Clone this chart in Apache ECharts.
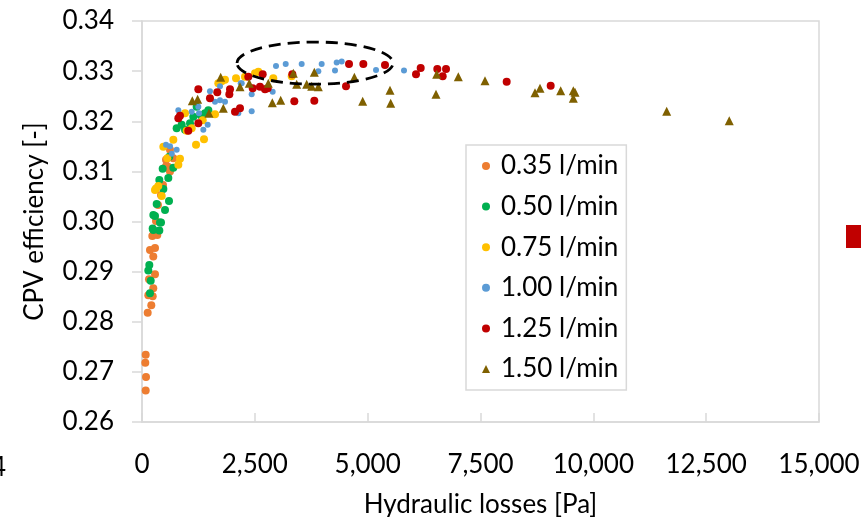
<!DOCTYPE html>
<html>
<head>
<meta charset="utf-8">
<script src="https://cdn.jsdelivr.net/npm/echarts@6/dist/echarts.min.js"></script>
<style>
html,body{margin:0;padding:0;background:#fff;}
#chart{width:861px;height:517px;}
</style>
</head>
<body>
<div id="chart"></div>
<script>
// ---------- data (x = hydraulic losses [Pa], y = CPV efficiency [-]) ----------
const seriesNames = ['0.35 l/min','0.50 l/min','0.75 l/min','1.00 l/min','1.25 l/min','1.50 l/min'];
const xTicks = [0, 2500, 5000, 7500, 10000, 12500, 15000];
const yTicks = [0.26, 0.27, 0.28, 0.29, 0.30, 0.31, 0.32, 0.33, 0.34];

const flow035 = [[82,0.2734],[73,0.2718],[89,0.2690],[82,0.2663],[126,0.2818],[206,0.2833],[250,0.2867],[140,0.2853],[237,0.2851],[288,0.2895],[155,0.2885],[177,0.2943],[288,0.2947],[250,0.2930],[228,0.2971],[339,0.2973],[310,0.3001],[532,0.3123],[576,0.3109],[465,0.3073],[354,0.3033],[421,0.3053],[620,0.3143],[532,0.3110],[620,0.3100],[694,0.3126]];
const flow050 = [[421,0.2998],[251,0.2983],[384,0.2982],[162,0.2913],[140,0.2902],[193,0.2882],[177,0.2857],[236,0.2986],[399,0.2998],[251,0.3013],[288,0.3011],[510,0.3023],[598,0.3041],[325,0.3035],[473,0.3065],[384,0.3083],[583,0.3087],[458,0.3105],[694,0.3107],[605,0.3129],[768,0.3186],[879,0.3193],[953,0.3183],[1064,0.3196],[1137,0.3209],[1211,0.3229],[1300,0.3212],[1470,0.3222],[1396,0.3216]];
const flow075 = [[310,0.3066],[361,0.3071],[436,0.3051],[561,0.3126],[842,0.3125],[805,0.3113],[473,0.3149],[694,0.3163],[1197,0.3153],[1374,0.3164],[990,0.3181],[1101,0.3186],[953,0.3216],[1345,0.3202],[1618,0.3214],[1691,0.3276],[1765,0.3280],[2083,0.3286],[2282,0.3289],[2504,0.3296],[2578,0.3299],[2909,0.3286],[3317,0.3290],[1839,0.3283],[288,0.3063]];
const flow100 = [[805,0.3222],[1101,0.3219],[1248,0.3229],[1263,0.3216],[768,0.3143],[532,0.3153],[1359,0.3183],[1455,0.3193],[1506,0.3260],[1617,0.3239],[1728,0.3242],[1839,0.3239],[1728,0.3270],[2134,0.3216],[2209,0.3276],[2430,0.3220],[2430,0.3254],[2895,0.3259],[2969,0.3310],[3184,0.3314],[3538,0.3314],[3981,0.3314],[3907,0.3300],[4314,0.3317],[4425,0.3319],[4276,0.3301],[5185,0.3302],[5805,0.3301],[2187,0.3276],[620,0.3150],[660,0.3135]];
const flow125 = [[1248,0.3264],[1506,0.3246],[1668,0.3258],[1950,0.3264],[1935,0.3254],[2171,0.3226],[2061,0.3219],[842,0.3211],[805,0.3206],[1248,0.3196],[1026,0.3181],[2355,0.3289],[2453,0.3266],[2614,0.3269],[2725,0.3264],[2674,0.3294],[2785,0.3266],[3375,0.3240],[3818,0.3241],[3331,0.3294],[4587,0.3314],[4904,0.3314],[5384,0.3312],[4520,0.3270],[6175,0.3306],[6071,0.3294],[6543,0.3304],[6736,0.3304],[6662,0.3290],[8080,0.3279],[9055,0.3271]];
const flow150 = [[1743,0.3288],[2171,0.3269],[2377,0.3276],[1115,0.3241],[1233,0.3244],[1485,0.3216],[1802,0.3226],[2798,0.3276],[2887,0.3237],[3073,0.3242],[3352,0.3296],[3427,0.3274],[3649,0.3274],[3760,0.3270],[3907,0.3269],[3818,0.3298],[4705,0.3288],[4890,0.3240],[5495,0.3262],[5510,0.3236],[6514,0.3254],[6529,0.3294],[7008,0.3289],[7600,0.3281],[8708,0.3257],[8819,0.3266],[9277,0.3261],[9556,0.3261],[9594,0.3258],[9556,0.3246],[11625,0.3220],[13012,0.3201]];

// highlighted region (dashed ellipse), in data units
const ellipseCenter = [3833, 0.3316];
const ellipseRadius = [1728, 0.0042];

// ---------- styling ----------
const colors = ['#ED7D31','#00B050','#FFC000','#5B9BD5','#C00000','#7F6000'];
const symbols = ['circle','circle','circle','circle','circle','triangle'];
const sizes = [8,8,8,6,8,9];
const allData = [flow035, flow050, flow075, flow100, flow125, flow150];
const FONT = 'Lato';
const FS = 26;
const gridGray = '#d9d9d9';

const chart = echarts.init(document.getElementById('chart'), null, {renderer:'canvas'});

const option = {
  animation: false,
  backgroundColor: '#fff',
  textStyle: {fontFamily: FONT},
  grid: {left:142, right:42, top:21, bottom:95, show:true, borderColor:gridGray, borderWidth:1.5,
         containLabel:false, outerBoundsMode:'none'},
  xAxis: {
    type:'value', min:xTicks[0], max:xTicks[xTicks.length-1], interval:2500,
    splitLine:{show:false},
    axisLine:{show:true, onZero:false, lineStyle:{color:gridGray, width:1.5}},
    axisTick:{show:true, inside:true, length:9, lineStyle:{color:gridGray, width:1.5}},
    axisLabel:{color:'#000', fontSize:FS, fontFamily:FONT, margin:30,
      formatter: v => v.toLocaleString('en-US')},
    name:'Hydraulic losses [Pa]', nameLocation:'middle', nameGap:70,
    nameTextStyle:{color:'#000', fontSize:FS, fontFamily:FONT}
  },
  yAxis: {
    type:'value', min:yTicks[0], max:yTicks[yTicks.length-1], interval:0.01,
    splitLine:{show:false},
    axisLine:{show:true, onZero:false, lineStyle:{color:gridGray, width:1.5}},
    axisTick:{show:true, inside:false, length:10, lineStyle:{color:gridGray, width:1.5}},
    axisLabel:{color:'#000', fontSize:FS, fontFamily:FONT, margin:28,
      formatter: v => v.toFixed(2)},
    name:'CPV efficiency [-]', nameLocation:'middle', nameGap:94, nameRotate:90,
    nameTextStyle:{color:'#000', fontSize:FS, fontFamily:FONT}
  },
  legend: {
    orient:'vertical', left:466, top:145,
    itemWidth:8, itemHeight:8, itemGap:14.6,
    padding:[8, 8, 8, 16],
    borderColor:gridGray, borderWidth:1.5, backgroundColor:'#fff',
    textStyle:{color:'#000', fontSize:FS, fontFamily:FONT, lineHeight:26, padding:[0,0,0,6]},
    data: seriesNames.map((n,i)=>({name:n, icon:symbols[i]}))
  },
  series: seriesNames.map((n,i)=>({
    name:n, type:'scatter', data:allData[i],
    symbol:symbols[i], symbolSize:sizes[i],
    itemStyle:{color:colors[i], opacity:1},
    z: 2+i
  }))
};
chart.setOption(option);

// dashed ellipse annotation positioned through the axes
const c = chart.convertToPixel({gridIndex:0}, ellipseCenter);
const e = chart.convertToPixel({gridIndex:0}, [ellipseCenter[0]+ellipseRadius[0], ellipseCenter[1]+ellipseRadius[1]]);
chart.setOption({
  graphic: [
    {type:'ellipse', shape:{cx:c[0], cy:c[1], rx:Math.abs(e[0]-c[0]), ry:Math.abs(c[1]-e[1])},
     style:{fill:'none', stroke:'#000', lineWidth:2.8, lineDash:[12,7]}, z:100},
    // fragments of neighbouring figures visible at the crop edges
    {type:'text', left:-9, top:455, style:{text:'4', fill:'#000', fontSize:FS, fontFamily:FONT}},
    {type:'rect', shape:{x:846, y:225, width:20, height:23}, style:{fill:'#C00000'}}
  ]
});
</script>
</body>
</html>
